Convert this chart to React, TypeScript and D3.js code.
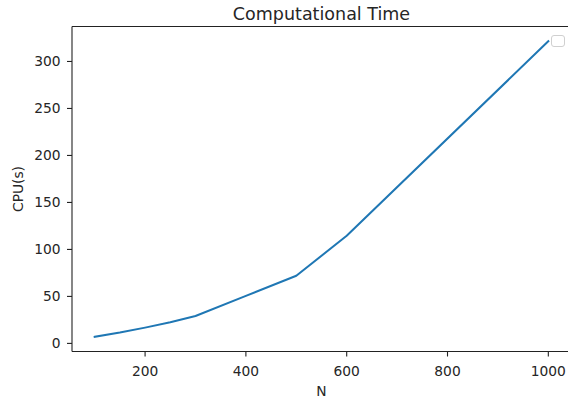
import React from "react";
import * as d3 from "d3";

const nValues = [100, 150, 200, 250, 300, 400, 500, 600, 1000];
const cpuValues = [7.1, 11.5, 16.8, 22.5, 29.2, 50.5, 72.0, 114.5, 321.5];
const xTicks = [200, 400, 600, 800, 1000];
const yTicks = [0, 50, 100, 150, 200, 250, 300];
const titleText = "Computational Time";
const xLabel = "N";
const yLabel = "CPU(s)";

const W = 568;
const H = 401;
const left = 72;
const right = 571;
const top = 26.5;
const bottom = 351.5;
const font = "DejaVu Sans, sans-serif";

export default function App() {
  const xMin = d3.min(nValues)!;
  const xMax = d3.max(nValues)!;
  const xm = (xMax - xMin) * 0.05;
  const yMin = d3.min(cpuValues)!;
  const yMax = d3.max(cpuValues)!;
  const ym = (yMax - yMin) * 0.05;
  const x = d3.scaleLinear().domain([xMin - xm, xMax + xm]).range([left, right]);
  const y = d3.scaleLinear().domain([yMin - ym, yMax + ym]).range([bottom, top]);
  const pts = nValues.map((n, i) => [n, cpuValues[i]] as [number, number]);
  const line = d3
    .line<[number, number]>()
    .x((d) => x(d[0]))
    .y((d) => y(d[1]));

  return (
    <svg
      width={W}
      height={H}
      style={{ position: "absolute", left: 0, top: 0, background: "#fff" }}
      fontFamily={font}
    >
      <rect x={0} y={0} width={W} height={H} fill="#fff" />
      <path d={line(pts) || ""} fill="none" stroke="#1f77b4" strokeWidth={2} strokeLinejoin="round" strokeLinecap="square" />
      {/* spines (right spine lies outside the picture) */}
      <line x1={left} x2={left} y1={top} y2={bottom} stroke="#222" strokeWidth={1.1} />
      <line x1={left} x2={right} y1={bottom} y2={bottom} stroke="#222" strokeWidth={1.1} />
      <line x1={left} x2={right} y1={top} y2={top} stroke="#222" strokeWidth={1.1} />
      {yTicks.map((t) => (
        <g key={"y" + t}>
          <line x1={left - 5} x2={left} y1={y(t)} y2={y(t)} stroke="#222" strokeWidth={1.1} />
          <text x={left - 11.5} y={y(t)} dy="0.36em" textAnchor="end" fontSize={13.8} fill="#262626">
            {t}
          </text>
        </g>
      ))}
      {xTicks.map((t) => (
        <g key={"x" + t}>
          <line x1={x(t)} x2={x(t)} y1={bottom} y2={bottom + 5} stroke="#222" strokeWidth={1.1} />
          <text x={x(t)} y={375.5} textAnchor="middle" fontSize={13.8} fill="#262626">
            {t}
          </text>
        </g>
      ))}
      <text x={(left + right) / 2} y={19.5} textAnchor="middle" fontSize={17.5} fill="#262626">
        {titleText}
      </text>
      <text x={(left + right) / 2} y={396} textAnchor="middle" fontSize={13.8} fill="#262626">
        {xLabel}
      </text>
      <text
        transform={`translate(23, ${(top + bottom) / 2}) rotate(-90)`}
        textAnchor="middle"
        fontSize={13.8}
        fill="#262626"
      >
        {yLabel}
      </text>
      <rect x={551.5} y={35.5} width={13} height={11} rx={2.5} fill="#fff" fillOpacity={0.8} stroke="#d0d0d0" strokeWidth={1} />
    </svg>
  );
}
